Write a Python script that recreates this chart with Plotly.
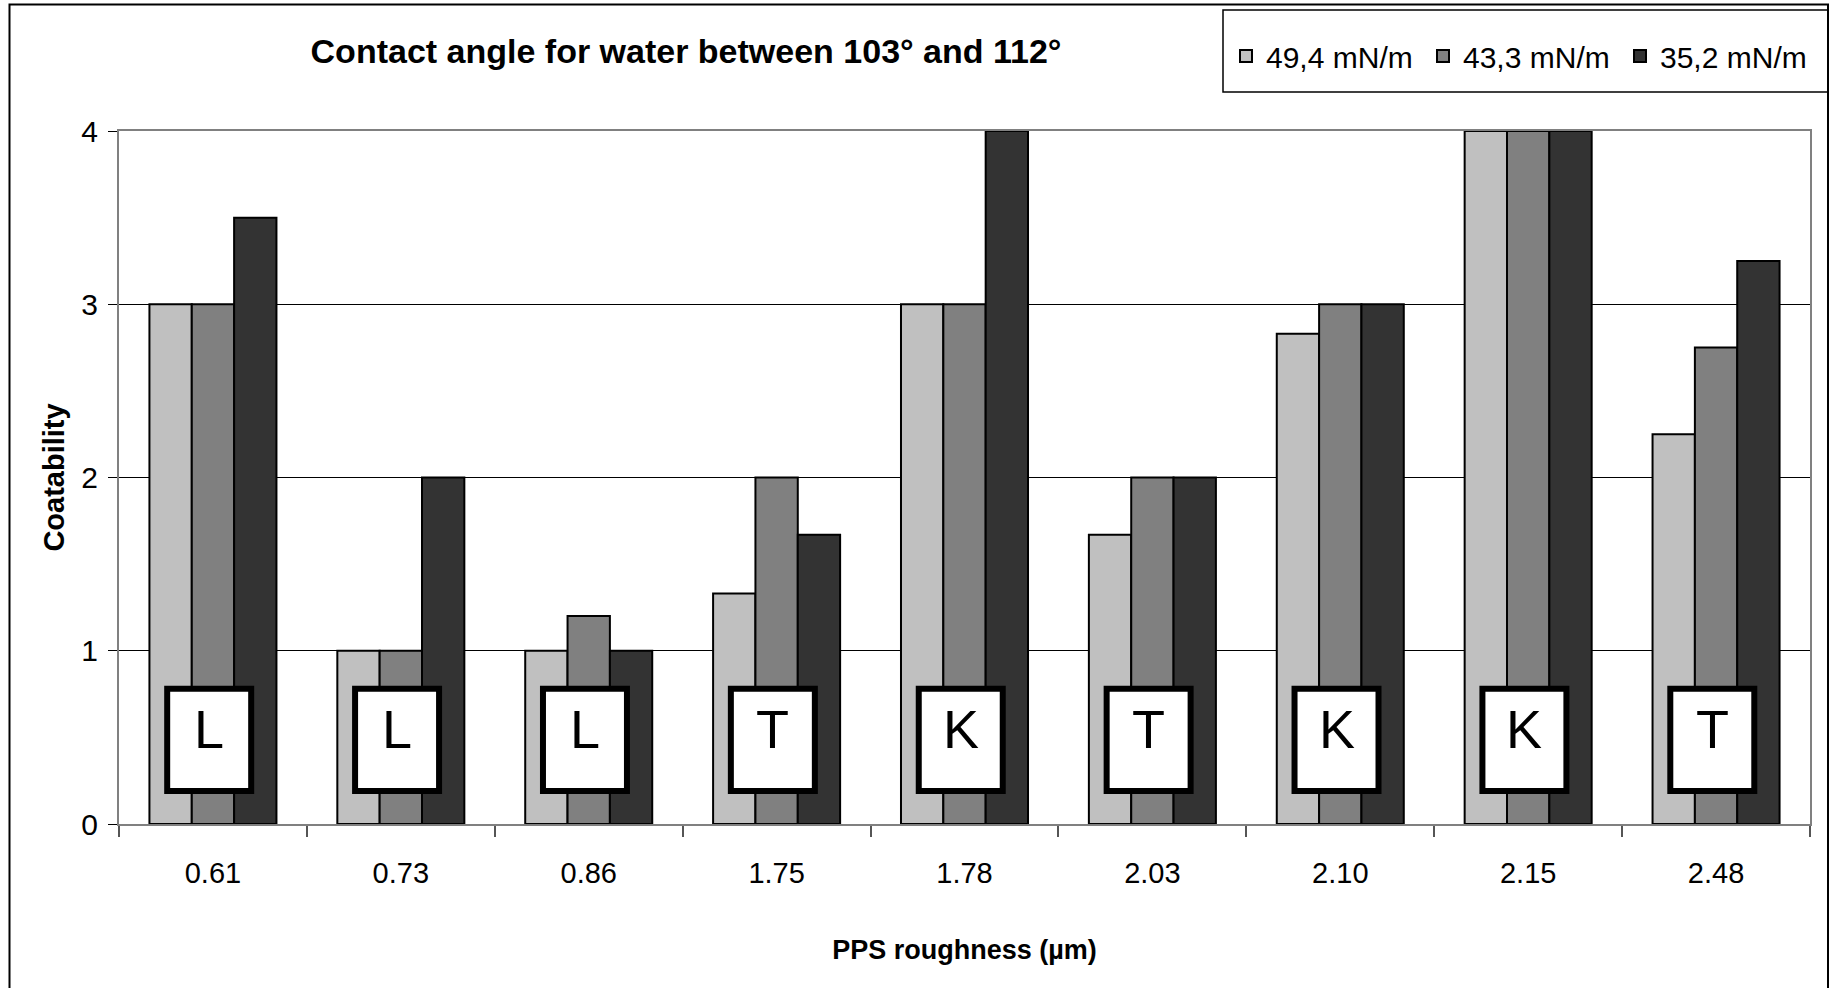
import plotly.graph_objects as go

# PPS surface roughness categories (µm) and coatability ratings per surface tension
roughness = ["0.61", "0.73", "0.86", "1.75", "1.78", "2.03", "2.10", "2.15", "2.48"]
tension_49_4 = [3, 1, 1, 1.33, 3, 1.67, 2.83, 4, 2.25]
tension_43_3 = [3, 1, 1.2, 2, 3, 2, 3, 4, 2.75]
tension_35_2 = [3.5, 2, 1, 1.67, 4, 2, 3, 4, 3.25]
series_names = ["49,4 mN/m", "43,3 mN/m", "35,2 mN/m"]
series_values = [tension_49_4, tension_43_3, tension_35_2]
series_colors = ["#C0C0C0", "#808080", "#333333"]
# Coating classification letter shown for each roughness
class_letters = ["L", "L", "L", "T", "K", "T", "K", "K", "T"]
y_ticks = [0, 1, 2, 3, 4]

W, H = 1835, 988
ML, MR, MT, MB = 119, 25, 131, 164
PW, PH = W - ML - MR, H - MT - MB

FONT = "Liberation Sans, Arial, sans-serif"


def px_x(px):
    return (px - ML) / PW


def px_y(py):
    return (H - MB - py) / PH


fig = go.Figure()
for name, vals, col in zip(series_names, series_values, series_colors):
    fig.add_trace(go.Bar(
        x=roughness, y=vals, name=name,
        marker=dict(color=col, line=dict(color="black", width=2)),
    ))

shapes = []
annotations = []
box_half = 0.2235
box_shift = -0.02
for i, letter in enumerate(class_letters):
    shapes.append(dict(
        type="rect", xref="x", yref="y", layer="above",
        x0=i + box_shift - box_half, x1=i + box_shift + box_half,
        y0=0.19, y1=0.78,
        fillcolor="white", line=dict(color="black", width=6),
    ))
    annotations.append(dict(
        x=i + box_shift, y=0.55, xref="x", yref="y", text=letter,
        showarrow=False, xanchor="center", yanchor="middle",
        font=dict(family=FONT, size=54, color="black"),
    ))

# chart frame and legend frame
shapes.append(dict(
    type="rect", xref="paper", yref="paper", layer="above",
    x0=px_x(9.5), x1=px_x(1828), y0=px_y(1010), y1=px_y(4.5),
    line=dict(color="black", width=2), fillcolor="rgba(0,0,0,0)",
))
shapes.append(dict(
    type="rect", xref="paper", yref="paper", layer="above",
    x0=px_x(1223), x1=px_x(1828), y0=px_y(92), y1=px_y(10),
    line=dict(color="black", width=1.5), fillcolor="rgba(0,0,0,0)",
))

fig.update_layout(
    width=W, height=H, autosize=False,
    margin=dict(l=ML, r=MR, t=MT, b=MB, pad=0),
    paper_bgcolor="white", plot_bgcolor="white",
    barmode="group", bargap=0.324, bargroupgap=0,
    title=dict(
        text="Contact angle for water between 103° and 112°",
        x=686 / W, xanchor="center", xref="container",
        y=1 - 51 / H, yanchor="middle", yref="container",
        font=dict(family=FONT, size=34, color="black", weight="bold"),
    ),
    legend=dict(
        orientation="h", x=px_x(1226), xanchor="left",
        y=px_y(56), yanchor="middle",
        font=dict(family=FONT, size=30, color="black"),
        bgcolor="rgba(0,0,0,0)", borderwidth=0,
        entrywidth=152, entrywidthmode="pixels", traceorder="normal",
    ),
    xaxis=dict(
        type="category", tickson="boundaries",
        ticks="outside", ticklen=11, tickwidth=1.5, tickcolor="#555555",
        showline=True, linecolor="#808080", linewidth=2, mirror=True,
        showgrid=False, zeroline=False, ticklabelstandoff=22,
        tickfont=dict(family=FONT, size=29, color="black"),
        title=dict(text="PPS roughness (µm)", standoff=52,
                   font=dict(family=FONT, size=27, color="black", weight="bold")),
    ),
    yaxis=dict(
        range=[0, 4], tickvals=y_ticks, ticktext=[str(v) for v in y_ticks],
        ticks="outside", ticklen=9, tickwidth=1, tickcolor="black",
        showline=True, linecolor="#808080", linewidth=2, mirror=True,
        showgrid=True, gridcolor="black", gridwidth=1, zeroline=False,
        ticklabelstandoff=4,
        tickfont=dict(family=FONT, size=30, color="black"),
        title=dict(text="Coatability", standoff=8,
                   font=dict(family=FONT, size=29, color="black", weight="bold")),
    ),
    shapes=shapes, annotations=annotations,
    showlegend=True,
)

fig.write_html("out.html")
